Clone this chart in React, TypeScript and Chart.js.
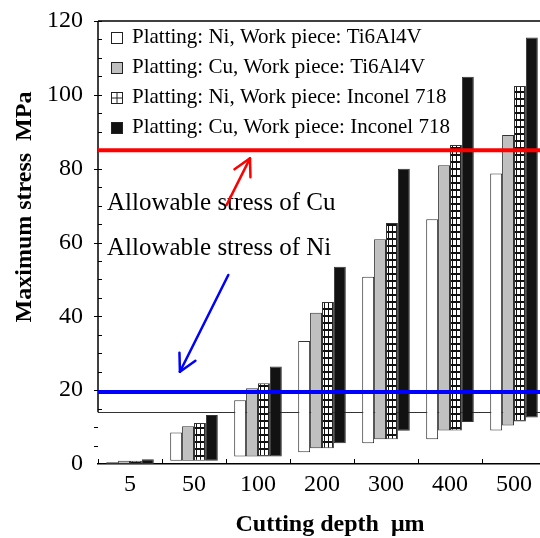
import React, { useEffect, useRef } from 'react';
import { Chart, registerables } from 'chart.js';

Chart.register(...registerables);

const categories = ['5', '50', '100', '200', '300', '400', '500'];
const seriesLabels = [
  'Platting: Ni, Work piece: Ti6Al4V',
  'Platting: Cu, Work piece: Ti6Al4V',
  'Platting: Ni, Work piece: Inconel 718',
  'Platting: Cu, Work piece: Inconel 718',
];
const niTiTop = [0.5, 8.5, 17.3, 33.3, 50.7, 66.3, 78.7];
const niTiBase = [0, 0.9, 2.0, 3.2, 5.6, 6.7, 9.1];
const cuTiTop = [0.9, 10.2, 20.5, 41.0, 60.9, 80.9, 89.1];
const cuTiBase = [0, 0.9, 2.0, 4.3, 6.7, 9.1, 10.4];
const niInTop = [0.9, 11.1, 21.9, 43.9, 65.3, 86.4, 102.4];
const niInBase = [0, 0.9, 2.0, 4.3, 6.7, 9.1, 11.5];
const cuInTop = [1.3, 13.3, 26.4, 53.4, 80.0, 104.9, 115.5];
const cuInBase = [0, 0.9, 2.0, 5.6, 9.0, 11.4, 12.6];
const yTicks = [0, 20, 40, 60, 80, 100, 120];
const cuAllowable = 85;
const niAllowable = 19.5;
const frameLineValue = 14;
const cuText = 'Allowable stress of Cu';
const niText = 'Allowable stress of Ni';
const xTitle = 'Cutting depth  \u03bcm';
const yTitle = 'Maximum stress  MPa';

const SERIF = '"Liberation Serif", "Times New Roman", serif';

function makePattern(): CanvasPattern | string {
  const c = document.createElement('canvas');
  c.width = 4;
  c.height = 7;
  const g = c.getContext('2d');
  if (!g) return '#888';
  g.fillStyle = '#fff';
  g.fillRect(0, 0, 4, 7);
  g.fillStyle = '#111';
  g.fillRect(0, 0, 1, 7);
  g.fillRect(0, 0, 4, 2);
  const p = g.createPattern(c, 'repeat');
  return p || '#888';
}

function line(ctx: CanvasRenderingContext2D, x1: number, y1: number, x2: number, y2: number) {
  ctx.beginPath();
  ctx.moveTo(x1, y1);
  ctx.lineTo(x2, y2);
  ctx.stroke();
}

function arrow(ctx: CanvasRenderingContext2D, x1: number, y1: number, x2: number, y2: number, color: string) {
  ctx.save();
  ctx.strokeStyle = color;
  ctx.lineWidth = 2.5;
  ctx.lineCap = 'round';
  line(ctx, x1, y1, x2, y2);
  const ang = Math.atan2(y1 - y2, x1 - x2);
  const len = 19;
  const spread = (28 * Math.PI) / 180;
  line(ctx, x2, y2, x2 + len * Math.cos(ang + spread), y2 + len * Math.sin(ang + spread));
  line(ctx, x2, y2, x2 + len * Math.cos(ang - spread), y2 + len * Math.sin(ang - spread));
  ctx.restore();
}

export default function App() {
  const ref = useRef<HTMLCanvasElement | null>(null);

  useEffect(() => {
    const canvas = ref.current;
    if (!canvas) return;
    const pattern = makePattern();
    const fills: any[] = ['#ffffff', '#c0c0c0', pattern, '#121212'];
    const bases = [niTiBase, cuTiBase, niInBase, cuInBase];
    const tops = [niTiTop, cuTiTop, niInTop, cuInTop];

    const xIdx = (chart: any, v: number) => {
      const s = chart.scales.x;
      const p0 = s.getPixelForValue(0);
      const p1 = s.getPixelForValue(1);
      return p0 + (p1 - p0) * v;
    };

    const decor = {
      id: 'decor',
      beforeDatasetsDraw(chart: any) {
        const { ctx, chartArea: a, scales } = chart;
        const y = scales.y;
        ctx.save();
        ctx.strokeStyle = '#333';
        ctx.lineWidth = 1;
        const yf = Math.round(y.getPixelForValue(frameLineValue)) + 0.5;
        line(ctx, a.left, yf, a.right, yf);
        ctx.restore();
      },
      afterDatasetsDraw(chart: any) {
        const { ctx, chartArea: a, scales } = chart;
        const y = scales.y;
        ctx.save();
        // frame
        ctx.strokeStyle = '#000';
        ctx.lineWidth = 1.5;
        const yf = y.getPixelForValue(frameLineValue);
        line(ctx, a.left, a.top, a.right, a.top);
        line(ctx, a.left, a.top, a.left, yf);
        // y ticks (inward minor/major)
        ctx.lineWidth = 1;
        for (let v = 15; v <= 120; v += 5) {
          const py = Math.round(y.getPixelForValue(v)) + 0.5;
          const major = v % 20 === 0;
          line(ctx, major ? a.left - 4 : a.left, py, a.left + 4, py);
        }
        for (const v of [5, 10]) {
          const py = Math.round(y.getPixelForValue(v)) + 0.5;
          line(ctx, a.left - 4, py, a.left, py);
        }
        // x ticks at category boundaries
        for (let i = 0; i <= categories.length; i++) {
          const px = Math.round(xIdx(chart, i - 0.5)) + 0.5;
          line(ctx, px, a.bottom, px, a.bottom - 5);
        }
        // allowable stress lines
        ctx.lineWidth = 4;
        ctx.strokeStyle = '#ff0000';
        const yr = y.getPixelForValue(cuAllowable);
        line(ctx, a.left, yr, a.right, yr);
        ctx.strokeStyle = '#0000ff';
        const yb = y.getPixelForValue(niAllowable);
        line(ctx, a.left, yb, a.right, yb);
        // annotation texts
        ctx.fillStyle = '#000';
        ctx.font = `25px ${SERIF}`;
        ctx.textAlign = 'left';
        ctx.textBaseline = 'alphabetic';
        ctx.fillText(cuText, a.left + 9, y.getPixelForValue(68.8));
        ctx.fillText(niText, a.left + 9, y.getPixelForValue(56.6));
        // arrows
        arrow(ctx, xIdx(chart, 1.51), y.getPixelForValue(70.2), xIdx(chart, 1.875), y.getPixelForValue(82.8), '#ff0000');
        arrow(ctx, xIdx(chart, 1.536), y.getPixelForValue(51.2), xIdx(chart, 0.78), y.getPixelForValue(25.0), '#0000ff');
        // legend
        ctx.font = `21px ${SERIF}`;
        ctx.textBaseline = 'middle';
        seriesLabels.forEach((lab, i) => {
          const cy = a.top + 16 + 30 * i;
          const bx = a.left + 13;
          const by = Math.round(cy - 5.5) + 0.5;
          ctx.fillStyle = i === 2 ? '#fff' : fills[i];
          ctx.fillRect(bx, by, 11, 11);
          ctx.strokeStyle = '#222';
          ctx.lineWidth = 1;
          ctx.strokeRect(bx + 0.5, by, 11, 11);
          if (i === 2) {
            line(ctx, bx + 6, by, bx + 6, by + 11);
            line(ctx, bx, by + 5.5, bx + 11, by + 5.5);
          }
          ctx.fillStyle = '#000';
          ctx.fillText(lab, a.left + 34, cy);
        });
        // axis titles
        ctx.font = `bold 24px ${SERIF}`;
        ctx.textAlign = 'center';
        ctx.textBaseline = 'middle';
        ctx.fillText(xTitle, 330, 525);
        ctx.translate(25, 207);
        ctx.rotate(-Math.PI / 2);
        ctx.fillText(yTitle, 0, 0);
        ctx.restore();
      },
    };

    const chart = new Chart(canvas, {
      type: 'bar',
      data: {
        labels: categories,
        datasets: seriesLabels.map((label, k) => ({
          label,
          data: categories.map((_, i) => [bases[k][i], tops[k][i]]),
          backgroundColor: fills[k],
          borderColor: '#333',
          borderWidth: 1,
          borderSkipped: false,
          categoryPercentage: 0.744,
          barPercentage: 1.0,
        })) as any,
      },
      options: {
        responsive: false,
        animation: false,
        layout: { padding: { top: 21, right: 2, left: 0, bottom: 0 } },
        plugins: {
          legend: { display: false },
          tooltip: { enabled: false },
        },
        scales: {
          x: {
            type: 'category',
            offset: true,
            grid: { display: false, drawTicks: false },
            border: { display: true, color: '#000', width: 1.5 },
            ticks: {
              color: '#000',
              font: { family: SERIF, size: 24 },
              padding: 6,
              maxRotation: 0,
              autoSkip: false,
            },
            afterFit: (s: any) => {
              s.height = 74;
              s.paddingLeft = 0;
              s.paddingRight = 0;
            },
          },
          y: {
            min: 0,
            max: 120,
            grid: { display: false, drawTicks: false },
            border: { display: false },
            afterBuildTicks: (s: any) => {
              s.ticks = yTicks.map((v) => ({ value: v }));
            },
            ticks: {
              color: '#000',
              font: { family: SERIF, size: 24 },
              padding: 15,
            },
            afterFit: (s: any) => {
              s.width = 98;
              s.paddingTop = 0;
              s.paddingBottom = 0;
            },
          },
        },
      } as any,
      plugins: [decor],
    });
    return () => chart.destroy();
  }, []);

  return (
    <div style={{ position: 'absolute', left: 0, top: 0, width: 540, height: 538, overflow: 'hidden', background: '#fff' }}>
      <canvas ref={ref} width={548} height={538} style={{ display: 'block', width: 548, height: 538 }} />
    </div>
  );
}
